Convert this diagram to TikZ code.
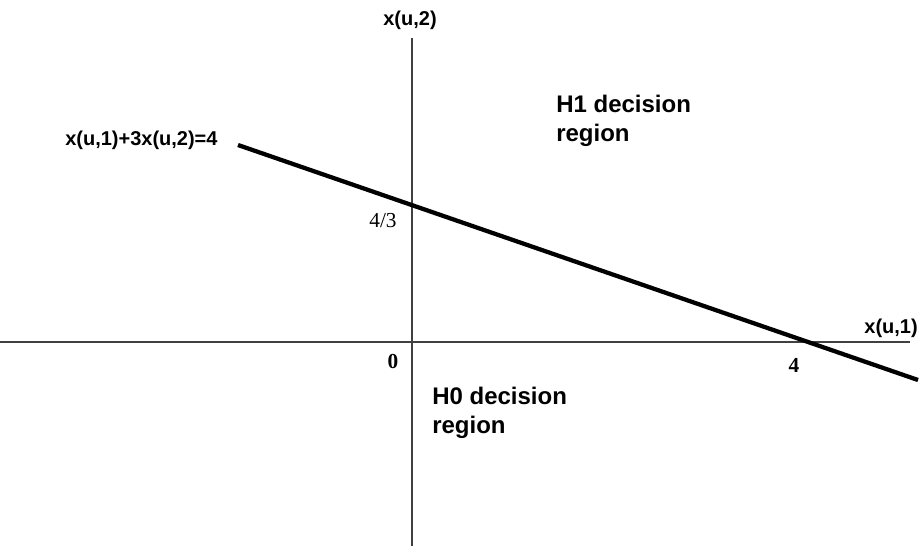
\documentclass[tikz,border=0pt]{standalone}
\usepackage{fontspec}
\setmainfont{Liberation Sans}
\newfontfamily\serifnum{Liberation Serif}
\begin{document}
\begin{tikzpicture}[x=0.75pt,y=-0.75pt,
  axis/.style={draw=black!75,line width=1.1pt},
  boundary/.style={draw=black,line width=3.2pt},
  small/.style={font=\fontsize{15}{17}\selectfont\bfseries,inner sep=0pt},
  tick/.style={font=\fontsize{16}{18}\selectfont\serifnum,inner sep=0pt},
  tickb/.style={font=\fontsize{16}{18}\selectfont\serifnum\bfseries,inner sep=0pt},
  region/.style={font=\fontsize{18}{21.5}\selectfont\bfseries,inner sep=0pt,align=left,anchor=north west}]
\useasboundingbox (0,0) rectangle (923,546);
\coordinate (ytop) at (412,38);
\coordinate (ybot) at (412,546);
\coordinate (xl) at (0,342);
\coordinate (xr) at (910,342);
\coordinate (ls) at (238,145);
\coordinate (le) at (918,380);
\draw[axis] (ybot) -- (ytop);
\draw[axis] (xl) -- (xr);
\draw[boundary] (ls) -- (le);
\node[small] (ylab) at (410,20) {x(u,2)};
\node[small,anchor=east] (xlab) at (918,328) {x(u,1)};
\node[small,anchor=west] (eq) at (65,140) {x(u,1)+3x(u,2)=4};
\node[tick] (t43) at (383,221) {4/3};
\node[tickb] (t0) at (393,362) {0};
\node[tickb] (t4) at (794,365) {4};
\node[region] (h1) at (556,95) {H1 decision\\region};
\node[region] (h0) at (432,387) {H0 decision\\region};
\end{tikzpicture}
\end{document}
